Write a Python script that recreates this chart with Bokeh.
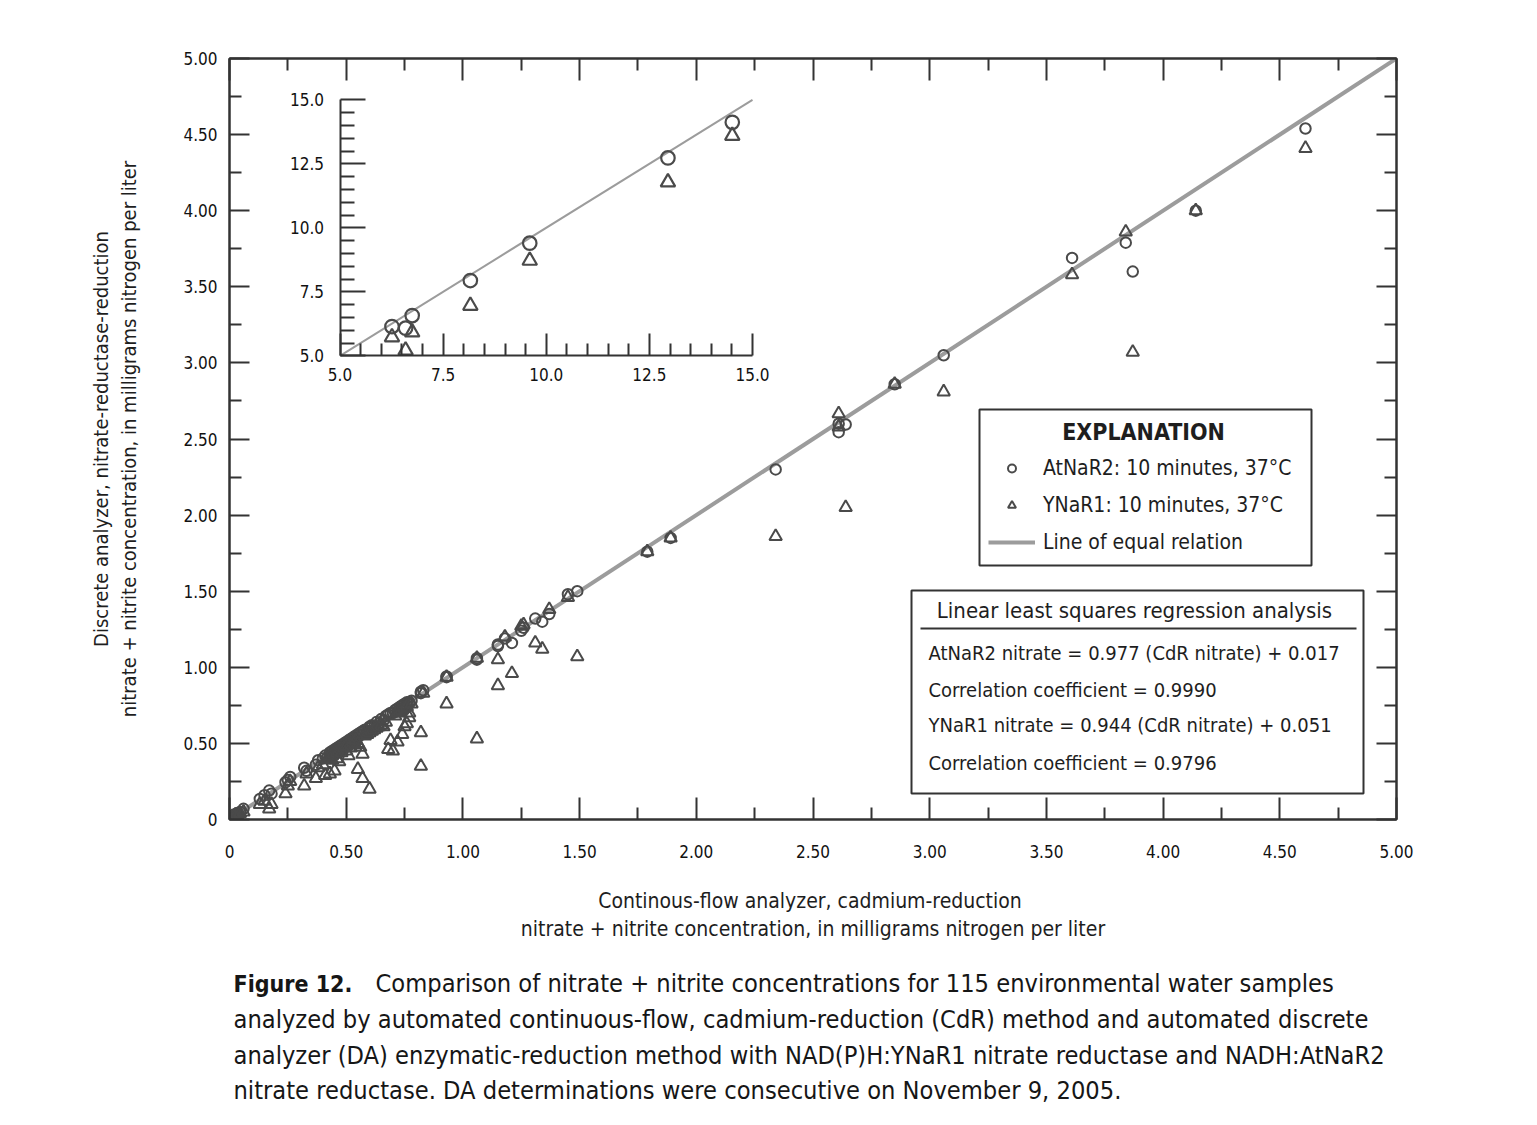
from bokeh.plotting import figure
from bokeh.layouts import column
from bokeh.models import (Range1d, LinearAxis, FixedTicker, Legend, LegendItem, Label,
                          BoxAnnotation, Arrow)
from bokeh.embed import file_html
from bokeh.resources import INLINE

# ---------------- data ----------------
cdr_nitrate = [
    0.005, 0.01, 0.012, 0.015, 0.02, 0.025, 0.03, 0.035, 0.045, 0.06,
    0.13, 0.15, 0.17, 0.18, 0.24, 0.25, 0.26, 0.32, 0.33, 0.37, 0.38,
    0.40, 0.41, 0.42, 0.43, 0.43, 0.44, 0.44, 0.45, 0.45, 0.46,
    0.46, 0.47, 0.47, 0.48, 0.48, 0.49, 0.50, 0.50, 0.51, 0.52,
    0.52, 0.53, 0.54, 0.54, 0.55, 0.55, 0.56, 0.57, 0.57, 0.58,
    0.59, 0.60, 0.60, 0.61, 0.62, 0.63, 0.64, 0.65, 0.66, 0.67,
    0.68, 0.69,
    0.70, 0.71, 0.72, 0.72, 0.73, 0.74, 0.74, 0.75, 0.75, 0.76, 0.76, 0.77, 0.77, 0.78,
    0.82, 0.82, 0.83, 0.93, 0.93, 1.06, 1.06, 1.15, 1.15, 1.18, 1.21, 1.25, 1.26, 1.31,
    1.34, 1.37, 1.45, 1.49, 1.79, 1.89, 2.34, 2.61, 2.61, 2.64, 2.85, 3.06, 3.61, 3.84,
    3.87, 4.14, 4.61,
]
atnar2_nitrate = [
    0.01, 0.015, 0.02, 0.02, 0.03, 0.03, 0.04, 0.04, 0.05, 0.07,
    0.135, 0.16, 0.19, 0.17, 0.245, 0.26, 0.28, 0.34, 0.32, 0.36, 0.39,
    0.40, 0.42, 0.41, 0.44, 0.42, 0.45, 0.43, 0.46, 0.44, 0.47,
    0.45, 0.48, 0.46, 0.49, 0.47, 0.50, 0.49, 0.51, 0.52, 0.51,
    0.53, 0.54, 0.53, 0.55, 0.56, 0.54, 0.57, 0.56, 0.58, 0.59,
    0.58, 0.60, 0.61, 0.62, 0.61, 0.64, 0.63, 0.66, 0.65, 0.68,
    0.69, 0.70,
    0.70, 0.72, 0.71, 0.73, 0.74, 0.73, 0.75, 0.76, 0.74, 0.77, 0.75, 0.77, 0.76, 0.78,
    0.84, 0.83, 0.85, 0.935, 0.94, 1.06, 1.05, 1.14, 1.15, 1.19, 1.16, 1.24, 1.26, 1.32,
    1.30, 1.35, 1.48, 1.50, 1.76, 1.85, 2.30, 2.545, 2.60, 2.595, 2.86, 3.05, 3.69, 3.79,
    3.60, 4.00, 4.54,
]
ynar1_nitrate = [
    0.005, 0.01, 0.02, 0.01, 0.02, 0.03, 0.03, 0.02, 0.04, 0.05,
    0.10, 0.12, 0.07, 0.10, 0.17, 0.22, 0.25, 0.22, 0.30, 0.27, 0.34,
    0.36, 0.29, 0.40, 0.30, 0.41, 0.39, 0.42, 0.32, 0.43, 0.44,
    0.40, 0.45, 0.38, 0.46, 0.44, 0.47, 0.45, 0.48, 0.42, 0.50,
    0.47, 0.51, 0.49, 0.52, 0.33, 0.50, 0.475, 0.27, 0.43, 0.55,
    0.56, 0.20, 0.57, 0.58, 0.59, 0.60, 0.61, 0.62, 0.61, 0.64,
    0.46, 0.52,
    0.45, 0.68, 0.51, 0.70, 0.71, 0.56, 0.72, 0.61, 0.73, 0.63, 0.74, 0.70, 0.67, 0.76,
    0.57, 0.35, 0.83, 0.935, 0.76, 1.06, 0.53, 1.05, 0.88, 1.20, 0.96, 1.27, 1.28, 1.16,
    1.12, 1.38, 1.46, 1.07, 1.76, 1.85, 1.86, 2.666, 2.58, 2.05, 2.86, 2.81, 3.58, 3.86,
    3.07, 4.00, 4.41,
]

inset_cdr = [6.26, 6.59, 6.75, 8.16, 9.60, 12.95, 14.51]
inset_atnar2 = [6.14, 6.08, 6.57, 7.94, 9.40, 12.73, 14.12]
inset_ynar1 = [5.73, 5.21, 5.92, 6.96, 8.72, 11.78, 13.60]

equal_line = [0.0, 5.0]
inset_equal_line = [5.0, 15.0]

main_ticks = [0.0, 0.5, 1.0, 1.5, 2.0, 2.5, 3.0, 3.5, 4.0, 4.5, 5.0]
main_tick_labels = ["0", "0.50", "1.00", "1.50", "2.00", "2.50", "3.00", "3.50", "4.00", "4.50", "5.00"]
main_minor_ticks = [0.25, 0.75, 1.25, 1.75, 2.25, 2.75, 3.25, 3.75, 4.25, 4.75]

inset_ticks = [5.0, 7.5, 10.0, 12.5, 15.0]
inset_tick_labels = ["5.0", "7.5", "10.0", "12.5", "15.0"]
inset_minor_ticks = [5.5, 6.0, 6.5, 7.0, 8.0, 8.5, 9.0, 9.5, 10.5, 11.0, 11.5, 12.0,
                     13.0, 13.5, 14.0, 14.5]

series_labels = ["AtNaR2: 10 minutes, 37\u00b0C", "YNaR1: 10 minutes, 37\u00b0C", "Line of equal relation"]
explanation_title = "EXPLANATION"
regression_title = "Linear least squares regression analysis"
regression_lines = [
    "AtNaR2 nitrate = 0.977 (CdR nitrate) + 0.017",
    "Correlation coefficient = 0.9990",
    "YNaR1 nitrate  = 0.944 (CdR nitrate) + 0.051",
    "Correlation coefficient = 0.9796",
]
x_title = "Continous-flow analyzer,  cadmium-reduction\nnitrate + nitrite concentration, in milligrams nitrogen per liter"
y_title = "Discrete analyzer, nitrate-reductase-reduction\nnitrate + nitrite concentration, in milligrams nitrogen per liter"
caption_head = "Figure 12."
caption_lines = [
    "Comparison of nitrate + nitrite concentrations for 115 environmental water samples",
    "analyzed by automated continuous-flow, cadmium-reduction (CdR) method and automated discrete",
    "analyzer (DA) enzymatic-reduction method with NAD(P)H:YNaR1 nitrate reductase and NADH:AtNaR2",
    "nitrate reductase. DA determinations were consecutive on November 9, 2005.",
]

# ---------------- layout / style ----------------
FONT = "DejaVu Sans Condensed, Liberation Sans Narrow, sans-serif"
INK = "#333333"
TXT = "#1e1e1e"
MARK = "#4a4a4a"
EQ_GRAY = "#9c9c9c"

FRAME_L, FRAME_T = 229, 58          # frame position on the page (px)
FRAME_W, FRAME_H = 1167, 761
FRAME_B = FRAME_T + FRAME_H
BOTTOM_BORDER = 150
CANVAS_W = 1512
RIGHT_BORDER = CANVAS_W - FRAME_L - FRAME_W
XS = FRAME_W / 5.0
YS = FRAME_H / 5.0


def dx(px):
    return (px - FRAME_L) / XS


def dy(py):
    return (FRAME_B - py) / YS


# inset placement (page px of its 5.0 and 15.0 positions)
IN_X5, IN_X15 = 339.5, 752.0
IN_Y5, IN_Y15 = 355.3, 99.3
ixs = (IN_X15 - IN_X5) / 10.0
iys = (IN_Y5 - IN_Y15) / 10.0
inset_x_start = 5.0 - (IN_X5 - FRAME_L) / ixs
inset_y_start = 5.0 - (FRAME_B - IN_Y5) / iys

p = figure(frame_width=FRAME_W, frame_height=FRAME_H,
           x_range=Range1d(0, 5), y_range=Range1d(0, 5),
           min_border_left=FRAME_L, min_border_top=FRAME_T,
           min_border_right=RIGHT_BORDER, min_border_bottom=BOTTOM_BORDER,
           x_axis_location=None, y_axis_location=None,
           output_backend="svg", toolbar_location=None)
p.grid.visible = False
p.outline_line_color = INK
p.outline_line_width = 2
p.background_fill_color = "white"
p.border_fill_color = "white"

p.extra_x_ranges = {"inset": Range1d(inset_x_start, inset_x_start + FRAME_W / ixs)}
p.extra_y_ranges = {"inset": Range1d(inset_y_start, inset_y_start + FRAME_H / iys)}


def base_axis(ax, tick_in, minor_in, standoff, size="17px"):
    ax.axis_line_color = INK
    ax.axis_line_width = 2
    ax.major_tick_line_color = INK
    ax.major_tick_line_width = 2
    ax.minor_tick_line_color = INK
    ax.minor_tick_line_width = 2
    ax.major_tick_in = tick_in
    ax.major_tick_out = 0
    ax.minor_tick_in = minor_in
    ax.minor_tick_out = 0
    ax.major_label_standoff = standoff
    ax.major_label_text_font = FONT
    ax.major_label_text_font_size = size
    ax.major_label_text_color = "#111111"
    ax.axis_label_text_font = FONT
    ax.axis_label_text_font_size = "21px"
    ax.axis_label_text_font_style = "normal"
    ax.axis_label_text_color = TXT
    ax.axis_label_text_line_height = 1.2


main_labels = dict(zip(main_ticks, main_tick_labels))
blank_labels = {t: "" for t in main_ticks}

xb = LinearAxis(ticker=FixedTicker(ticks=main_ticks, minor_ticks=main_minor_ticks),
                major_label_overrides=main_labels, axis_label=x_title)
base_axis(xb, 22, 12, 25)
xb.axis_label_standoff = 28
p.add_layout(xb, "below")

yl = LinearAxis(ticker=FixedTicker(ticks=main_ticks, minor_ticks=main_minor_ticks),
                major_label_overrides=main_labels, axis_label=y_title)
base_axis(yl, 20, 12, 12)
yl.axis_label_text_font_size = "20px"
yl.axis_label_standoff = 39
p.add_layout(yl, "left")

xt = LinearAxis(ticker=FixedTicker(ticks=main_ticks, minor_ticks=main_minor_ticks),
                major_label_overrides=blank_labels)
base_axis(xt, 22, 12, 2)
xt.major_label_text_color = None
p.add_layout(xt, "above")

yr = LinearAxis(ticker=FixedTicker(ticks=main_ticks, minor_ticks=main_minor_ticks),
                major_label_overrides=blank_labels)
base_axis(yr, 20, 12, 2)
yr.major_label_text_color = None
p.add_layout(yr, "right")

# inset axes (fixed inside the frame)
inset_labels = dict(zip(inset_ticks, inset_tick_labels))
ix = LinearAxis(x_range_name="inset", y_range_name="inset", fixed_location=5.0,
                bounds=(5.0, 15.0),
                ticker=FixedTicker(ticks=inset_ticks, minor_ticks=inset_minor_ticks),
                major_label_overrides=inset_labels)
base_axis(ix, 22, 12, 12)
p.add_layout(ix, "below")

iy = LinearAxis(x_range_name="inset", y_range_name="inset", fixed_location=5.0,
                bounds=(5.0, 15.0),
                ticker=FixedTicker(ticks=inset_ticks, minor_ticks=inset_minor_ticks),
                major_label_overrides=inset_labels)
base_axis(iy, 25, 14, 16)
p.add_layout(iy, "left")

# ---------------- glyphs ----------------
eq_r = p.line(equal_line, equal_line, line_color=EQ_GRAY, line_width=4)
c_r = p.scatter(cdr_nitrate, atnar2_nitrate, marker="circle", size=10.5,
                fill_color=None, line_color=MARK, line_width=2)
t_r = p.scatter(cdr_nitrate, ynar1_nitrate, marker="triangle", size=12.5,
                fill_color=None, line_color=MARK, line_width=2)

p.line(inset_equal_line, inset_equal_line, x_range_name="inset", y_range_name="inset",
       line_color=EQ_GRAY, line_width=2)
p.scatter(inset_cdr, inset_atnar2, x_range_name="inset", y_range_name="inset",
          marker="circle", size=13.5, fill_color=None, line_color=MARK, line_width=2.2)
p.scatter(inset_cdr, inset_ynar1, x_range_name="inset", y_range_name="inset",
          marker="triangle", size=14.5, fill_color=None, line_color=MARK, line_width=2.2)

# ---------------- explanation box ----------------
p.add_layout(BoxAnnotation(left=dx(979), right=dx(1311), top=dy(409), bottom=dy(565),
                           fill_color="white", fill_alpha=1.0,
                           line_color=INK, line_width=2, line_alpha=1.0))
p.add_layout(Label(x=dx(1143), y=dy(431), text=explanation_title, text_font=FONT,
                   text_font_size="23px", text_font_style="bold", text_color=TXT,
                   text_align="center", text_baseline="middle"))
legend = Legend(items=[LegendItem(label=series_labels[0], renderers=[c_r]),
                       LegendItem(label=series_labels[1], renderers=[t_r]),
                       LegendItem(label=series_labels[2], renderers=[eq_r])],
                location=(988 - FRAME_L, FRAME_B - 557),
                padding=0, margin=0, spacing=7,
                glyph_width=47, glyph_height=20, label_height=30, label_standoff=8,
                label_text_font=FONT, label_text_font_size="21px", label_text_color=TXT,
                border_line_color=None, background_fill_alpha=0.0)
p.add_layout(legend)

# ---------------- regression box ----------------
p.add_layout(BoxAnnotation(left=dx(911), right=dx(1363), top=dy(590), bottom=dy(793),
                           fill_color="white", fill_alpha=1.0,
                           line_color=INK, line_width=2, line_alpha=1.0))
p.add_layout(Label(x=dx(1134), y=dy(610), text=regression_title, text_font=FONT,
                   text_font_size="22px", text_color=TXT,
                   text_align="center", text_baseline="middle"))
p.add_layout(Arrow(x_start=dx(920), y_start=dy(628), x_end=dx(1356), y_end=dy(628),
                   end=None, line_color=INK, line_width=2))
for text, ypx in zip(regression_lines, [652, 689, 724, 762]):
    p.add_layout(Label(x=dx(928), y=dy(ypx), text=text, text_font=FONT,
                       text_font_size="20px", text_color=TXT,
                       text_align="left", text_baseline="middle"))

# ---------------- caption (separate panel below the chart) ----------------
CAP_TOP = FRAME_B + BOTTOM_BORDER
CAP_BOTTOM = 1112
cap = figure(frame_width=FRAME_W, frame_height=CAP_BOTTOM - CAP_TOP,
             x_range=Range1d(FRAME_L, FRAME_L + FRAME_W), y_range=Range1d(CAP_BOTTOM, CAP_TOP),
             min_border_left=FRAME_L, min_border_right=RIGHT_BORDER,
             min_border_top=0, min_border_bottom=0,
             x_axis_location=None, y_axis_location=None,
             output_backend="svg", toolbar_location=None)
cap.grid.visible = False
cap.outline_line_color = None
cap.border_fill_color = "white"

cap.add_layout(Label(x=233, y=983, text=caption_head, text_font=FONT,
                     text_font_size="23px", text_font_style="bold", text_color="#161616",
                     text_align="left", text_baseline="middle"))
for text, xpx, ypx in zip(caption_lines, [375, 233, 233, 233], [983, 1019, 1055, 1090]):
    cap.add_layout(Label(x=xpx, y=ypx, text=text, text_font=FONT,
                         text_font_size="25.2px", text_color="#161616",
                         text_align="left", text_baseline="middle"))

layout = column(p, cap, spacing=0)
open("out.html", "w").write(file_html(layout, INLINE))
